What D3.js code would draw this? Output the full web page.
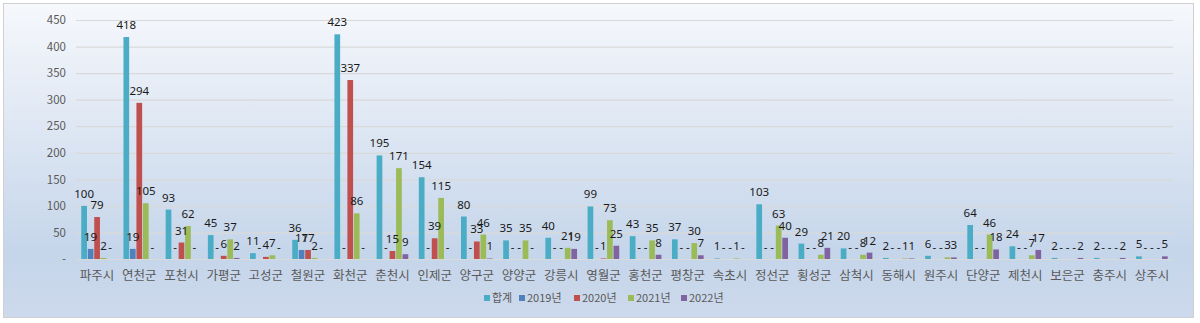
<!DOCTYPE html>
<html>
<head>
<meta charset="utf-8">
<script src="https://cdn.jsdelivr.net/npm/d3@7"></script>
<style>
  html, body { margin: 0; padding: 0; background: #ffffff; }
  svg { display: block; }
</style>
</head>
<body>
<svg id="chart" width="1200" height="323"></svg>
<script>
const categories = ["파주시","연천군","포천시","가평군","고성군","철원군","화천군","춘천시","인제군","양구군","양양군","강릉시","영월군","홍천군","평창군","속초시","정선군","횡성군","삼척시","동해시","원주시","단양군","제천시","보은군","충주시","상주시"];
const seriesNames = ["합계","2019년","2020년","2021년","2022년"];
const total  = [100,418,93,45,11,36,423,195,154,80,35,40,99,43,37,1,103,29,20,2,6,64,24,2,2,5];
const y2019  = [19,19,0,0,0,17,0,0,0,0,0,0,0,0,0,0,0,0,0,0,0,0,0,0,0,0];
const y2020  = [79,294,31,6,4,17,337,15,39,33,0,0,1,0,0,0,0,0,0,0,0,0,0,0,0,0];
const y2021  = [2,105,62,37,7,2,86,171,115,46,35,21,73,35,30,1,63,8,8,1,3,46,7,0,0,0];
const y2022  = [0,0,0,2,0,0,0,9,0,1,0,19,25,8,7,0,40,21,12,1,3,18,17,2,2,5];
const yTicks = [0,50,100,150,200,250,300,350,400,450];
const colors = ["#4bacc6","#4f81bd","#c0504d","#9bbb59","#8064a2"];

(function () {
const seriesValues = [total, y2019, y2020, y2021, y2022];
const svg = d3.select("#chart");

const defs = svg.append("defs");
const grad = defs.append("linearGradient").attr("id","bg").attr("x1",0).attr("y1",0).attr("x2",0).attr("y2",1);
grad.append("stop").attr("offset","0%").attr("stop-color","#f6f8fc");
grad.append("stop").attr("offset","80%").attr("stop-color","#c5d5ea");
grad.append("stop").attr("offset","100%").attr("stop-color","#cdd9ec");

svg.append("rect").attr("x",3.5).attr("y",3.5).attr("width",1190).attr("height",314)
  .attr("fill","url(#bg)").attr("stroke","#d0d0d0").attr("stroke-width",1);

const pL = 76, pR = 1173, pT = 20, pB = 259;
const x = d3.scaleBand().domain(categories).range([pL, pR]).paddingInner(0.25).paddingOuter(0.125);
const xs = d3.scaleBand().domain(seriesNames).range([0, x.bandwidth()]).paddingInner(0.12);
const y = d3.scaleLinear().domain([0,450]).range([pB, pT]);

// gridlines
svg.append("g").attr("transform",`translate(${pL},0)`)
  .call(d3.axisLeft(y).tickValues(yTicks).tickSize(-(pR-pL)).tickFormat(""))
  .call(g => g.select(".domain").remove())
  .call(g => g.selectAll("line").attr("stroke","#d9d9d9").attr("stroke-width",1.2));

// y axis labels
svg.append("g").attr("transform",`translate(66,0)`)
  .call(d3.axisLeft(y).tickValues(yTicks).tickSize(0).tickPadding(0).tickFormat(d => d === 0 ? "-" : d))
  .call(g => g.select(".domain").remove())
  .call(g => g.selectAll("text").attr("fill","#595959").style("font-family","'Noto Sans CJK KR', 'Noto Sans', sans-serif").style("font-size","11.5px"));

// x axis labels
svg.append("g").attr("transform",`translate(0,${pB})`)
  .call(d3.axisBottom(x).tickSize(0).tickPadding(12))
  .call(g => g.select(".domain").remove())
  .call(g => g.selectAll("text").attr("fill","#595959").style("font-family","'Noto Sans CJK KR', sans-serif").style("font-size","12.5px"));

// bars
const groups = svg.append("g").selectAll("g").data(categories).join("g")
  .attr("transform", d => `translate(${x(d)},0)`);

seriesNames.forEach((s, si) => {
  groups.append("rect")
    .attr("x", xs(s))
    .attr("width", xs.bandwidth())
    .attr("y", (d, i) => y(seriesValues[si][i]))
    .attr("height", (d, i) => pB - y(seriesValues[si][i]))
    .attr("fill", colors[si]);
});

seriesNames.forEach((s, si) => {
  groups.append("text")
    .attr("x", xs(s) + xs.bandwidth()/2)
    .attr("y", (d, i) => y(seriesValues[si][i]) - 8)
    .attr("text-anchor","middle")
    .attr("fill","#1a1a1a")
    .style("font-family","'Noto Sans', 'DejaVu Sans', sans-serif")
    .style("font-size","11.5px")
    .text((d, i) => seriesValues[si][i] === 0 ? "-" : seriesValues[si][i]);
});

// legend
const legendX = [484, 519, 574, 628, 681];
const legend = svg.append("g").selectAll("g").data(seriesNames).join("g")
  .attr("transform", (d, i) => `translate(${legendX[i]},298)`);
legend.append("rect").attr("x",0).attr("y",-3).attr("width",6).attr("height",6).attr("fill",(d,i)=>colors[i]);
legend.append("text").attr("x",8).attr("y",0).attr("dy","0.35em")
  .attr("fill","#595959")
  .style("font-family","'Noto Sans CJK KR', sans-serif").style("font-size","11px")
  .text(d => d);
})();
</script>
</body>
</html>
